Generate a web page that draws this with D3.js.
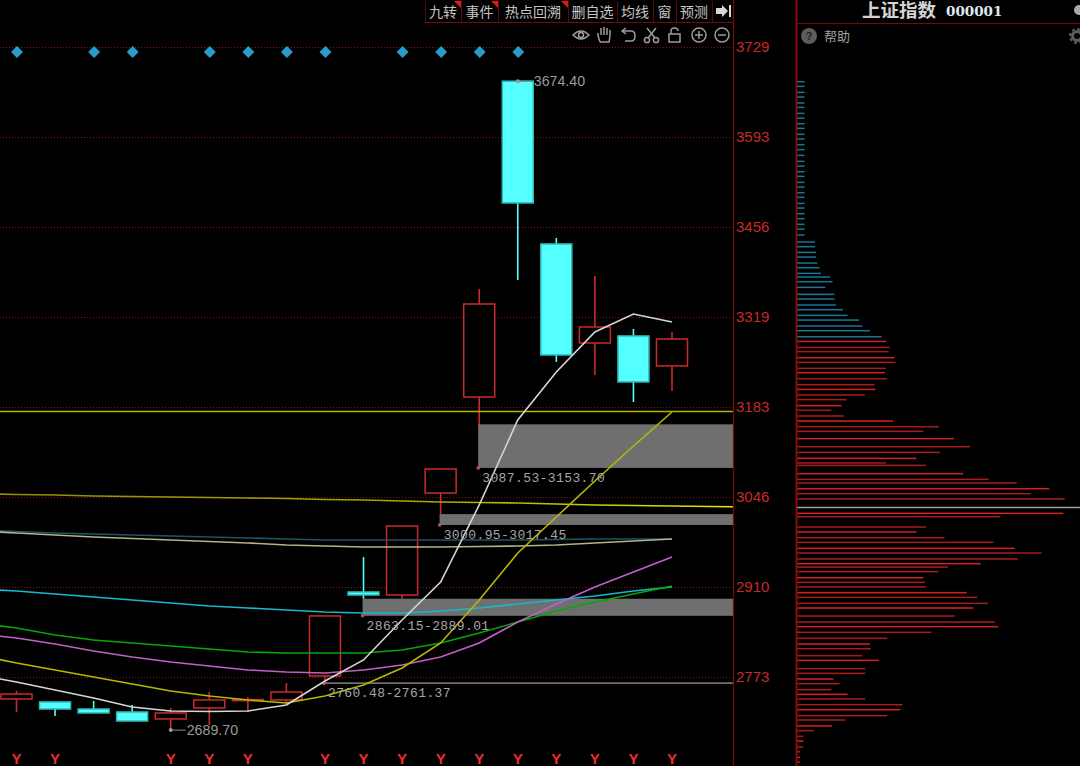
<!DOCTYPE html>
<html>
<head>
<meta charset="utf-8">
<script src="https://cdn.jsdelivr.net/npm/d3@7"></script>
<style>
  html, body { margin: 0; padding: 0; background: #000; overflow: hidden; }
  svg { display: block; }
</style>
</head>
<body>
<div id="chart"></div>
<script>
// candles, left to right
const opens  = [2736.9, 2732.4, 2721.7, 2717.2, 2706.6, 2723.3, 2735.4, 2735.4, 2771.8, 2899.3, 2894.7, 3049.5, 3195.2, 3674.4, 3427.4, 3277.1, 3287.8, 3242.3];
const closes = [2744.5, 2721.7, 2715.7, 2703.5, 2715.7, 2735.4, 2736.0, 2747.5, 2862.9, 2894.7, 2999.4, 3085.9, 3336.3, 3489.6, 3258.9, 3301.4, 3218.0, 3283.2];
const highs  = [2749.1, 2732.4, 2733.9, 2727.8, 2723.3, 2747.5, 2740.0, 2761.2, 2862.9, 2952.4, 2999.4, 3085.9, 3359.1, 3674.4, 3436.5, 3378.8, 3298.4, 3293.8];
const lows   = [2717.2, 2711.1, 2715.7, 2703.5, 2689.7, 2697.5, 2717.2, 2729.3, 2760.48, 2889.01, 2889.01, 3000.95, 3087.53, 3372.7, 3248.3, 3228.6, 3187.6, 3204.3];

// moving averages, these start one bar left of the first candle
const maWhite   = [2773.3, 2762.7, 2750.6, 2738.4, 2724.8, 2718.7, 2717.9, 2718.7, 2727.8, 2764.2, 2796.1, 2856.8, 2914.4, 3031.3, 3160.3, 3233.1, 3293.8, 3321.1, 3309.0];
const maYellow  = [2803.7, 2791.5, 2780.9, 2770.3, 2759.7, 2749.0, 2741.4, 2735.4, 2730.8, 2741.4, 2758.1, 2783.9, 2821.9, 2887.1, 2958.4, 3013.1, 3067.7, 3120.8, 3172.4];
const maMagenta = [2835.5, 2829.5, 2820.4, 2809.7, 2800.6, 2793.0, 2787.0, 2780.9, 2777.9, 2776.3, 2780.9, 2788.5, 2800.6, 2821.9, 2853.7, 2881.0, 2906.8, 2929.6, 2952.4];
const maGreen   = [2852.2, 2844.6, 2834.0, 2826.4, 2821.9, 2817.3, 2812.8, 2808.2, 2806.7, 2806.7, 2806.7, 2811.3, 2821.9, 2837.1, 2853.7, 2870.4, 2884.1, 2896.2, 2908.4];
const maBlue    = [2903.8, 2900.8, 2896.2, 2891.7, 2887.1, 2882.6, 2878.0, 2875.0, 2871.9, 2868.9, 2867.4, 2867.4, 2870.4, 2875.0, 2881.0, 2887.1, 2893.2, 2900.8, 2906.8];
const maTeal    = [2993.3, 2991.1, 2988.8, 2987.3, 2985.8, 2984.2, 2982.7, 2981.2, 2979.7, 2978.2, 2978.2, 2978.2, 2978.2, 2978.2, 2978.2, 2978.9, 2979.7, 2979.7, 2979.7];
const maPale    = [2991.8, 2988.8, 2985.8, 2982.7, 2980.4, 2978.2, 2975.9, 2973.6, 2970.6, 2969.1, 2967.6, 2967.6, 2967.6, 2968.3, 2969.1, 2970.6, 2973.6, 2976.7, 2979.7];
// this one runs on past the last candle to the axis
const maOlive   = [3048.4, 3047.2, 3046.5, 3044.9, 3044.2, 3043.4, 3042.7, 3041.9, 3041.2, 3039.6, 3038.9, 3037.4, 3035.8, 3035.1, 3034.3, 3032.8, 3031.3, 3030.5, 3029.8, 3029.0, 3028.2];

const levelPrice = 3173.2;

// gaps: from bar, low, high
const gapBars  = [9, 11, 12];
const gapLows  = [2863.15, 3000.95, 3087.53];
const gapHighs = [2889.01, 3017.45, 3153.70];
const thinBar = 8;
const thinLow = 2760.48;
const thinHigh = 2761.37;

const yTickLabels = ["3729", "3593", "3456", "3319", "3183", "3046", "2910", "2773"];
const yTickPrices = [3726.3, 3589.7, 3453.1, 3316.6, 3180.0, 3043.4, 2906.9, 2770.3];

const diamondBars = [0, 2, 3, 5, 6, 7, 8, 10, 11, 12, 13];
const signalBars  = [0, 1, 4, 5, 6, 8, 9, 10, 11, 12, 13, 14, 15, 16, 17];

const toolLabels = ["九转", "事件", "热点回溯", "删自选", "均线", "窗", "预测"];
const toolEdges  = [425, 461, 498, 568, 617, 653, 676, 712, 733];
const toolFlagged = [0, 1, 2];

// volume by price, right panel
const profilePrices = [3673.7, 3666.6, 3657.5, 3650.4, 3641.3, 3634.7, 3625.6, 3618.5, 3609.9, 3602.9, 3593.8, 3586.7, 3578.1, 3570.5, 3561.9, 3552.8, 3545.7, 3537.1, 3530.0, 3520.9, 3513.8, 3505.2, 3498.2, 3489.0, 3482.0, 3473.4, 3465.8, 3457.2, 3450.1, 3441.0, 3430.4, 3423.3, 3414.7, 3407.6, 3398.5, 3391.4, 3382.8, 3377.3, 3370.2, 3361.6, 3351.0, 3343.9, 3334.8, 3327.7, 3319.1, 3312.0, 3302.9, 3295.8, 3286.7,
  3279.6, 3270.5, 3264.0, 3254.9, 3247.8, 3238.7, 3232.1, 3223.0, 3213.9, 3206.8, 3198.2, 3191.2, 3182.1, 3175.0, 3166.4, 3158.8, 3150.2, 3143.1, 3132.0, 3119.8, 3111.2, 3102.1, 3095.1, 3091.5, 3078.9, 3070.3, 3064.7, 3056.1, 3048.5, 3040.4, 3018.7, 3013.6, 2997.9, 2990.3, 2981.7, 2974.7, 2965.6, 2958.5, 2949.4, 2942.3, 2937.2, 2930.2, 2921.0, 2914.0, 2906.9, 2898.3, 2891.2, 2882.1, 2875.0, 2862.9, 2853.8, 2846.7, 2838.1, 2829.0, 2820.4, 2813.3, 2802.7, 2795.6, 2783.0, 2775.9, 2767.3, 2760.2, 2751.1, 2744.0, 2736.9, 2728.3, 2720.7, 2711.6, 2705.1, 2696.0, 2688.9, 2680.3, 2673.2, 2664.1, 2657.0, 2648.4, 2641.3];
const profileVols = [7.3, 7.3, 7.3, 7.3, 7.3, 7.3, 7.3, 7.3, 7.3, 7.3, 7.3, 7.3, 7.3, 7.3, 7.3, 7.3, 7.3, 7.3, 7.3, 7.3, 7.3, 7.3, 7.3, 7.3, 7.3, 7.3, 7.3, 7.3, 7.3, 7.3, 17.7, 17.7, 18.7, 18.7, 20, 22.3, 23.7, 32.7, 35.3, 28, 37.3, 37.3, 38.7, 45.7, 50.3, 62, 65.3, 72.7, 84.3,
  89, 92.3, 91.3, 97, 98.3, 88.7, 87.7, 90, 77.3, 78.3, 67.7, 49.3, 44.3, 34, 46.7, 96, 141.7, 126.3, 156.7, 173, 142.7, 119.3, 88.7, 128.7, 166, 191.7, 219.7, 252.3, 233.7, 267.7, 266.3, 203.3, 128.7, 119.3, 147.3, 196.3, 217.7, 244.3, 221, 183.7, 150.7, 141.3, 126.3, 127.7, 128.7, 169.7, 180, 190.7, 176.3, 157.7, 197.7, 201, 134.3, 90, 72.7, 73.7, 65.3, 81.7, 68, 68, 36.3, 42.3, 34, 50.3, 68, 105.3, 103, 90, 48, 35, 16.7, 6, 6, 6, 2.7, 2.7, 2.7];
const profileSplit = 3283; // blue above, red below
const currentPrice = 3027.3;

const width = 1080, height = 766;
const plotRight = 733, panelLeft = 796;

const svg = d3.select("#chart").append("svg")
  .attr("width", width)
  .attr("height", height)
  .style("background", "#000");

const defs = svg.append("defs");
defs.append("clipPath").attr("id", "plot")
  .append("rect").attr("x", 0).attr("y", 0).attr("width", plotRight).attr("height", height);

// the long line gets brighter towards the axis
const oliveFade = defs.append("linearGradient").attr("id", "oliveFade")
  .attr("gradientUnits", "userSpaceOnUse")
  .attr("x1", 0).attr("x2", plotRight).attr("y1", 0).attr("y2", 0);
oliveFade.append("stop").attr("offset", "0%").attr("stop-color", "#8f8f00");
oliveFade.append("stop").attr("offset", "60%").attr("stop-color", "#a8a800");
oliveFade.append("stop").attr("offset", "100%").attr("stop-color", "#e8e800");

const x = d3.scaleLinear().domain([0, 17]).range([16.5, 672]);
const y = d3.scaleLinear().domain([3729, 2773]).range([45.2, 675.2]);
const profileX = d3.scaleLinear().domain([0, 283]).range([797.3, 1080]);

const bodyWidth = 31;
const red = "#cc2a2a", cyan = "#54ffff";

const plot = svg.append("g").attr("clip-path", "url(#plot)");

// grid
plot.append("g").selectAll("line").data(yTickPrices).join("line")
  .attr("x1", 0).attr("x2", plotRight)
  .attr("y1", d => Math.round(y(d)) + 0.5).attr("y2", d => Math.round(y(d)) + 0.5)
  .attr("stroke", "#8c1212").attr("stroke-dasharray", "1 2");

// wicks then bodies
const bars = d3.range(opens.length);
plot.append("g").selectAll("line").data(bars).join("line")
  .attr("x1", i => x(i)).attr("x2", i => x(i))
  .attr("y1", i => y(highs[i])).attr("y2", i => y(lows[i]))
  .attr("stroke", i => closes[i] >= opens[i] ? red : cyan)
  .attr("stroke-width", 1.6);

plot.append("g").selectAll("rect").data(bars).join("rect")
  .attr("x", i => x(i) - bodyWidth / 2)
  .attr("width", bodyWidth)
  .attr("y", i => y(Math.max(opens[i], closes[i])))
  .attr("height", i => Math.max(1, Math.abs(y(opens[i]) - y(closes[i]))))
  .attr("fill", i => closes[i] >= opens[i] ? "#000" : cyan)
  .attr("stroke", i => closes[i] >= opens[i] ? red : "#2fb8b8")
  .attr("stroke-width", 1.5);

// gap zones
plot.append("g").selectAll("rect").data(gapBars).join("rect")
  .attr("x", d => x(d) - 1)
  .attr("width", d => plotRight - x(d) + 1)
  .attr("y", (d, i) => y(gapHighs[i]))
  .attr("height", (d, i) => y(gapLows[i]) - y(gapHighs[i]))
  .attr("fill", "#6f6f6f");

plot.append("line")
  .attr("x1", x(thinBar)).attr("x2", plotRight)
  .attr("y1", y((thinLow + thinHigh) / 2)).attr("y2", y((thinLow + thinHigh) / 2))
  .attr("stroke", "#6f6f6f").attr("stroke-width", 1.6);

plot.append("g").selectAll("circle").data(gapBars.concat([thinBar])).join("circle")
  .attr("cx", d => x(d) - 1)
  .attr("cy", (d, i) => y(i < 3 ? gapLows[i] : thinLow))
  .attr("r", 1.8)
  .attr("fill", "#c05050");

// level line
plot.append("line")
  .attr("x1", 0).attr("x2", plotRight)
  .attr("y1", y(levelPrice)).attr("y2", y(levelPrice))
  .attr("stroke", "#b4b400").attr("stroke-width", 1.6);

// moving averages
const maLine = d3.line().x((d, i) => x(i - 1)).y(d => y(d));
const maSeries = [
  [maOlive, "url(#oliveFade)"],
  [maTeal, "#1d5560"],
  [maPale, "#b3b38c"],
  [maBlue, "#16b8cf"],
  [maGreen, "#04a804"],
  [maMagenta, "#c060c8"],
  [maYellow, "#b8b800"],
  [maWhite, "#d6d6d6"]
];
plot.append("g").selectAll("path").data(maSeries).join("path")
  .attr("d", d => maLine(d[0]))
  .attr("fill", "none")
  .attr("stroke", d => d[1])
  .attr("stroke-width", 1.6);

// diamonds and Y markers
plot.append("g").selectAll("path").data(diamondBars).join("path")
  .attr("d", d3.symbol(d3.symbolDiamond2, 90))
  .attr("transform", d => `translate(${x(d) + 0.5},52)`)
  .attr("fill", "#2a9ccb");

plot.append("g").selectAll("text").data(signalBars).join("text")
  .attr("x", d => x(d)).attr("y", 764)
  .attr("text-anchor", "middle")
  .attr("font-family", "Liberation Sans, Arial, sans-serif")
  .attr("font-size", 15).attr("font-weight", "bold")
  .attr("fill", "#ee2e2e")
  .text("Y");

// price callouts
const callouts = [[13, 3674.4, "3674.40"], [4, 2689.7, "2689.70"]];
plot.append("g").selectAll("line").data(callouts).join("line")
  .attr("x1", d => x(d[0])).attr("x2", d => x(d[0]) + 15)
  .attr("y1", d => y(d[1])).attr("y2", d => y(d[1]))
  .attr("stroke", "#8a8a8a");
plot.append("g").selectAll("circle.c").data(callouts).join("circle")
  .attr("cx", d => x(d[0])).attr("cy", d => y(d[1])).attr("r", 2).attr("fill", "#9a9a9a");
plot.append("g").selectAll("text").data(callouts).join("text")
  .attr("x", d => x(d[0]) + 16).attr("y", d => y(d[1]) + 5)
  .attr("font-family", "Liberation Sans, Arial, sans-serif")
  .attr("font-size", 14.2).attr("fill", "#9a9a9a")
  .text(d => d[2]);

// zone labels, sit just under each zone
const zoneLabels = gapBars.map((b, i) => [b, gapLows[i], gapLows[i].toFixed(2) + "-" + gapHighs[i].toFixed(2)]);
zoneLabels.push([thinBar, thinLow, thinLow.toFixed(2) + "-" + thinHigh.toFixed(2)]);
plot.append("g").selectAll("text").data(zoneLabels).join("text")
  .attr("x", d => x(d[0]) + 3).attr("y", d => y(d[1]) + 14)
  .attr("font-family", "Liberation Mono, monospace")
  .attr("font-size", 13).attr("letter-spacing", 0.4)
  .attr("fill", "#a6a6a6")
  .text(d => d[2]);

// right axis
const yAxis = d3.axisRight(y)
  .tickValues(yTickPrices)
  .tickSize(0)
  .tickPadding(3)
  .tickFormat((d, i) => yTickLabels[i]);
const axisG = svg.append("g").attr("transform", `translate(${plotRight},0)`).call(yAxis);
axisG.select(".domain").remove();
axisG.selectAll("text")
  .attr("font-family", "Liberation Sans, Arial, sans-serif")
  .attr("font-size", 15)
  .attr("fill", "#c62a2a");

// frame
const frame = svg.append("g").attr("stroke", "#7a0808");
frame.append("line").attr("x1", plotRight + 0.5).attr("x2", plotRight + 0.5).attr("y1", 0).attr("y2", height).attr("stroke-width", 1.2);
frame.append("line").attr("x1", panelLeft + 0.5).attr("x2", panelLeft + 0.5).attr("y1", 0).attr("y2", height).attr("stroke-width", 2).attr("stroke", "#8a0a0a");
frame.append("line").attr("x1", toolEdges[0]).attr("x2", plotRight).attr("y1", 22.5).attr("y2", 22.5);
frame.append("line").attr("x1", panelLeft).attr("x2", width).attr("y1", 23.5).attr("y2", 23.5);

// toolbar
const toolbar = svg.append("g");
toolbar.selectAll("line").data(toolEdges.slice(0, -1)).join("line")
  .attr("x1", d => d + 0.5).attr("x2", d => d + 0.5).attr("y1", 1).attr("y2", 22)
  .attr("stroke", "#5a0808");
toolbar.selectAll("text").data(toolLabels).join("text")
  .attr("x", (d, i) => (toolEdges[i] + toolEdges[i + 1]) / 2)
  .attr("y", 17)
  .attr("text-anchor", "middle")
  .attr("font-family", "Noto Sans CJK SC")
  .attr("font-size", 14)
  .attr("fill", "#c4c4c4")
  .text(d => d);
toolbar.selectAll("path.flag").data(toolFlagged).join("path")
  .attr("d", i => `M${toolEdges[i + 1] - 7},1H${toolEdges[i + 1]}V8Z`)
  .attr("fill", "#e01818");
toolbar.append("path").attr("d", "M716,8H722V5L728,11L722,17V14H716Z").attr("fill", "#d8d8d8");
toolbar.append("rect").attr("x", 729).attr("y", 5).attr("width", 2).attr("height", 12).attr("fill", "#d8d8d8");

// icons
const icons = svg.append("g").attr("fill", "none").attr("stroke", "#9c9c9c").attr("stroke-width", 1.5);
icons.append("path").attr("d", "M573,35Q581,27 589,35Q581,43 573,35Z");
icons.append("circle").attr("cx", 581).attr("cy", 35).attr("r", 2.5);
icons.append("path").attr("d", "M600,42L598,36V33M601,35V28M604,35V27M607,35V28M610,36V30M600,42H609L610,36");
icons.append("path").attr("d", "M623,31H631Q635,31 635,36Q635,41 631,41H625M626,28L622,31L626,34");
icons.append("circle").attr("cx", 647).attr("cy", 40).attr("r", 2.6);
icons.append("circle").attr("cx", 656).attr("cy", 40).attr("r", 2.6);
icons.append("path").attr("d", "M648,38L656,28M655,38L647,28");
icons.append("rect").attr("x", 669).attr("y", 34).attr("width", 11).attr("height", 8);
icons.append("path").attr("d", "M671,34V31Q671,28 674.5,28Q678,28 678,31");
icons.append("circle").attr("cx", 699).attr("cy", 35).attr("r", 7);
icons.append("path").attr("d", "M695,35H703M699,31V39");
icons.append("circle").attr("cx", 722).attr("cy", 35).attr("r", 7);
icons.append("path").attr("d", "M718,35H726");

// right panel header
svg.append("text").attr("x", 862).attr("y", 17)
  .attr("font-family", "Noto Sans CJK SC").attr("font-size", 18.5).attr("font-weight", "bold")
  .attr("fill", "#d4d4d4").text("上证指数");
svg.append("text").attr("x", 946).attr("y", 16)
  .attr("font-family", "DejaVu Serif").attr("font-size", 13.5).attr("font-weight", "bold")
  .attr("fill", "#dfe8f0").text("000001");
svg.append("circle").attr("cx", 1079).attr("cy", 10).attr("r", 5).attr("fill", "#a8a8a8");
svg.append("circle").attr("cx", 809).attr("cy", 36).attr("r", 8).attr("fill", "#5c5c5c");
svg.append("text").attr("x", 809).attr("y", 40).attr("text-anchor", "middle")
  .attr("font-family", "Liberation Sans").attr("font-size", 11).attr("font-weight", "bold")
  .attr("fill", "#222").text("?");
svg.append("text").attr("x", 824).attr("y", 41)
  .attr("font-family", "Noto Sans CJK SC").attr("font-size", 13)
  .attr("fill", "#a0a0a0").text("帮助");
// gear, cut by the window edge
svg.append("circle").attr("cx", 1077).attr("cy", 36).attr("r", 4.5)
  .attr("fill", "none").attr("stroke", "#5e5e5e").attr("stroke-width", 3);
svg.append("circle").attr("cx", 1077).attr("cy", 36).attr("r", 7)
  .attr("fill", "none").attr("stroke", "#5e5e5e").attr("stroke-width", 2).attr("stroke-dasharray", "3 2.5");

// volume profile
svg.append("g").selectAll("rect").data(profilePrices).join("rect")
  .attr("x", profileX(0))
  .attr("y", d => y(d) - 0.7)
  .attr("width", (d, i) => profileX(profileVols[i]) - profileX(0))
  .attr("height", 1.5)
  .attr("fill", (d, i) => d > profileSplit ? "#1a7596" : (i % 3 === 1 ? "#d42222" : "#a81c1c"));

svg.append("line")
  .attr("x1", profileX(0)).attr("x2", width)
  .attr("y1", y(currentPrice)).attr("y2", y(currentPrice))
  .attr("stroke", "#a0a0a0").attr("stroke-width", 1.5);
</script>
</body>
</html>
